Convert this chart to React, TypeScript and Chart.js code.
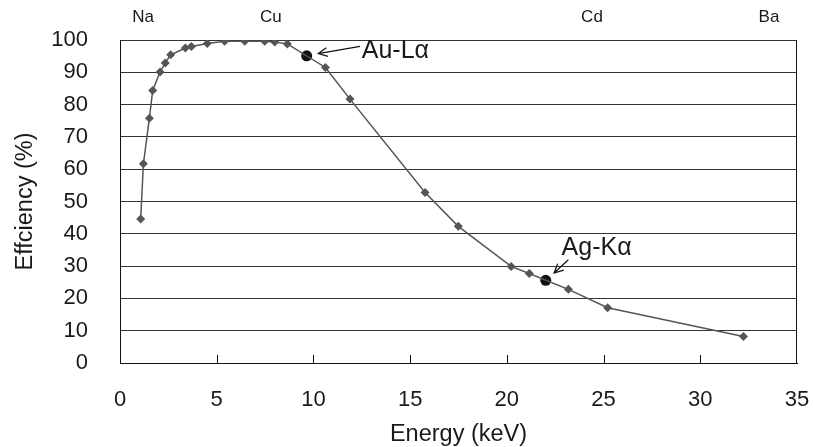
import React, { useEffect, useRef } from "react";
import { Chart, registerables } from "chart.js";

Chart.register(...registerables);

// Measured curve
const energy = [1.07, 1.21, 1.52, 1.69, 2.07, 2.34, 2.62, 3.38, 3.69, 4.51, 5.41, 6.45, 7.48, 8.0, 8.65, 10.62, 11.89, 15.77, 17.49, 20.22, 21.16, 23.18, 25.21, 32.23];
const efficiency = [44.6, 61.7, 75.8, 84.4, 90.1, 92.9, 95.4, 97.5, 98.0, 98.9, 99.6, 99.6, 99.6, 99.4, 98.8, 91.5, 81.7, 52.8, 42.3, 29.9, 27.7, 22.8, 17.1, 8.2];

// Marked lines
const lineNames = ["Au-L\u03b1", "Ag-K\u03b1"];
const lineEnergy = [9.65, 22.01];
const lineEfficiency = [95.1, 25.6];
// label anchor (data coords) and arrow start/tip (data coords)
const labelEnergy = [12.5, 22.83];
const labelEfficiency = [96.5, 35.7];
const arrowFromX = [12.41, 23.18];
const arrowFromY = [98.0, 31.98];
const arrowToX = [10.25, 22.44];
const arrowToY = [95.8, 27.86];

// Element labels on top
const elementNames = ["Na", "Cu", "Cd", "Ba"];
const elementEnergy = [1.2, 7.8, 24.4, 33.55];

// Axis ticks
const xTicks = [0, 5, 10, 15, 20, 25, 30, 35];
const yTicks = [0, 10, 20, 30, 40, 50, 60, 70, 80, 90, 100];

const FONT = "'Liberation Sans', Arial, Helvetica, sans-serif";
const TEXT = "#1a1a1a";

const overlay = {
  id: "overlay",
  beforeDatasetsDraw(chart: any) {
    const { ctx, chartArea, scales } = chart;
    const { left, right, top, bottom } = chartArea;
    const x = scales.x;
    ctx.save();
    ctx.strokeStyle = "#111";
    ctx.lineWidth = 1;
    ctx.beginPath();
    const rx = Math.round(right) - 0.5;
    ctx.moveTo(rx, top);
    ctx.lineTo(rx, bottom);
    for (const v of xTicks) {
      const px = Math.round(x.getPixelForValue(v)) + 0.5;
      if (px <= left + 2 || px >= right - 2) continue;
      ctx.moveTo(px, bottom);
      ctx.lineTo(px, bottom - 8);
    }
    ctx.stroke();
    ctx.restore();
  },
  afterDraw(chart: any) {
    const { ctx, chartArea, scales } = chart;
    const x = scales.x;
    const y = scales.y;
    ctx.save();
    // element labels
    ctx.fillStyle = TEXT;
    ctx.font = `17px ${FONT}`;
    ctx.textAlign = "center";
    ctx.textBaseline = "middle";
    elementNames.forEach((n, i) => {
      ctx.fillText(n, x.getPixelForValue(elementEnergy[i]), chartArea.top - 23);
    });
    // line labels
    ctx.font = `25px ${FONT}`;
    ctx.textAlign = "left";
    lineNames.forEach((n, i) => {
      ctx.fillText(n, x.getPixelForValue(labelEnergy[i]), y.getPixelForValue(labelEfficiency[i]));
    });
    // arrows
    ctx.strokeStyle = "#111";
    ctx.lineWidth = 1.2;
    lineNames.forEach((_, i) => {
      const x0 = x.getPixelForValue(arrowFromX[i]);
      const y0 = y.getPixelForValue(arrowFromY[i]);
      const x1 = x.getPixelForValue(arrowToX[i]);
      const y1 = y.getPixelForValue(arrowToY[i]);
      const ang = Math.atan2(y1 - y0, x1 - x0);
      const h = 10;
      const sp = 0.45;
      ctx.beginPath();
      ctx.moveTo(x0, y0);
      ctx.lineTo(x1, y1);
      ctx.moveTo(x1 - h * Math.cos(ang - sp), y1 - h * Math.sin(ang - sp));
      ctx.lineTo(x1, y1);
      ctx.lineTo(x1 - h * Math.cos(ang + sp), y1 - h * Math.sin(ang + sp));
      ctx.stroke();
    });
    ctx.restore();
  },
};

export default function App() {
  const ref = useRef<HTMLCanvasElement>(null);
  useEffect(() => {
    if (!ref.current) return;
    const chart = new Chart(ref.current, {
      type: "scatter",
      data: {
        datasets: [
          {
            data: energy.map((e, i) => ({ x: e, y: efficiency[i] })),
            showLine: true,
            borderColor: "#555",
            borderWidth: 1.5,
            backgroundColor: "#555",
            pointStyle: "rectRot",
            pointRadius: 4.5,
            pointBorderWidth: 0,
            tension: 0,
          },
          {
            data: lineEnergy.map((e, i) => ({ x: e, y: lineEfficiency[i] })),
            showLine: false,
            backgroundColor: "#111",
            borderColor: "#111",
            pointStyle: "circle",
            pointRadius: 5.5,
            pointBorderWidth: 0,
          },
        ],
      },
      options: {
        animation: false,
        responsive: false,
        events: [],
        layout: { padding: { left: 0, right: 16, top: 40, bottom: 0 } },
        plugins: { legend: { display: false }, tooltip: { enabled: false } },
        scales: {
          x: {
            type: "linear",
            min: 0,
            max: 35,
            afterBuildTicks: (s: any) => {
              s.ticks = xTicks.map((v) => ({ value: v }));
            },
            afterFit: (s: any) => {
              s.height = 84;
              s.paddingLeft = 0;
              s.paddingRight = 0;
            },
            grid: { display: false, drawTicks: false },
            border: { display: true, color: "#111", width: 1 },
            ticks: { color: TEXT, font: { family: FONT, size: 22 }, padding: 24, maxRotation: 0 },
            title: {
              display: true,
              text: "Energy (keV)",
              color: TEXT,
              font: { family: FONT, size: 23.5 },
              padding: { top: 0, bottom: -2 },
            },
          },
          y: {
            type: "linear",
            min: 0,
            max: 100,
            afterBuildTicks: (s: any) => {
              s.ticks = yTicks.map((v) => ({ value: v }));
            },
            afterFit: (s: any) => {
              s.width = 120;
              s.paddingTop = 0;
              s.paddingBottom = 0;
            },
            grid: { color: "#333", lineWidth: 1, drawTicks: false },
            border: { display: true, color: "#111", width: 1 },
            ticks: { color: TEXT, font: { family: FONT, size: 22 }, padding: 32 },
            title: {
              display: true,
              text: "Effciency (%)",
              color: TEXT,
              font: { family: FONT, size: 23.5 },
              padding: { top: 11, bottom: 0 },
            },
          },
        },
      },
      plugins: [overlay],
    } as any);
    return () => chart.destroy();
  }, []);
  return (
    <div style={{ position: "fixed", left: 0, top: 0, width: 813, height: 447, background: "#fff" }}>
      <canvas ref={ref} width={813} height={447} style={{ display: "block" }} />
    </div>
  );
}
